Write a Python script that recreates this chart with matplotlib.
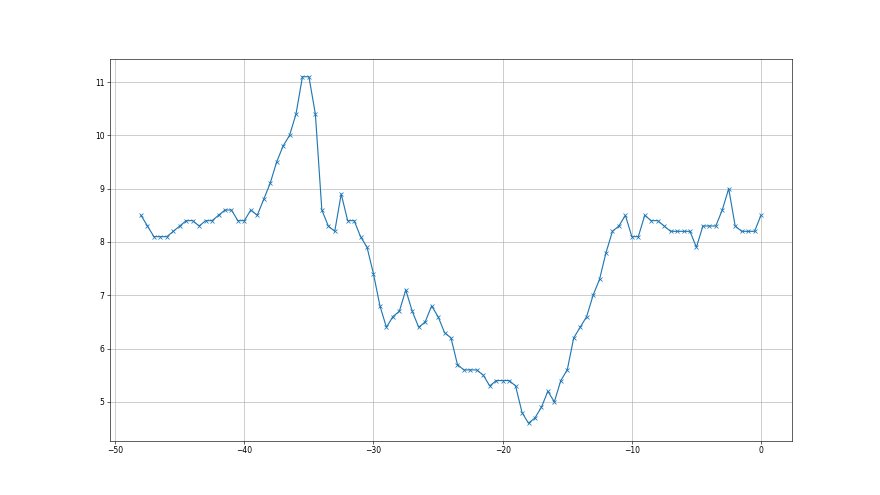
import numpy as np
import matplotlib
matplotlib.use("Agg")
import matplotlib.pyplot as plt

# sample times, every half step from -48 to 0
x = np.arange(-48, 0.5, 0.5)

values = [
    8.5, 8.3, 8.1, 8.1, 8.1, 8.2, 8.3, 8.4, 8.4, 8.3,
    8.4, 8.4, 8.5, 8.6, 8.6, 8.4, 8.4, 8.6, 8.5, 8.8,
    9.1, 9.5, 9.8, 10.0, 10.4, 11.1, 11.1, 10.4, 8.6, 8.3,
    8.2, 8.9, 8.4, 8.4, 8.1, 7.9, 7.4, 6.8, 6.4, 6.6,
    6.7, 7.1, 6.7, 6.4, 6.5, 6.8, 6.6, 6.3, 6.2, 5.7,
    5.6, 5.6, 5.6, 5.5, 5.3, 5.4, 5.4, 5.4, 5.3, 4.8,
    4.6, 4.7, 4.9, 5.2, 5.0, 5.4, 5.6, 6.2, 6.4, 6.6,
    7.0, 7.3, 7.8, 8.2, 8.3, 8.5, 8.1, 8.1, 8.5, 8.4,
    8.4, 8.3, 8.2, 8.2, 8.2, 8.2, 7.9, 8.3, 8.3, 8.3,
    8.6, 9.0, 8.3, 8.2, 8.2, 8.2, 8.5,
]

fig, ax = plt.subplots(figsize=(16, 9), dpi=55)
ax.plot(x, values, marker="x")
ax.grid(True)

fig.savefig("out.png", dpi=55)
